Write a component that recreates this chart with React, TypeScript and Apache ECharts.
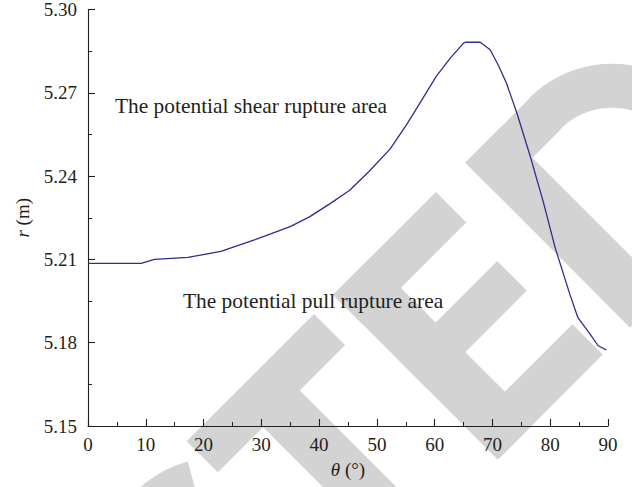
import React, { useEffect, useRef } from 'react';
import * as echarts from 'echarts';

// ---- data ----
const thetaDeg = [0, 9.2, 11.5, 17.3, 23, 28.8, 35, 38.4, 41.9, 45.3, 48.8, 52.3, 55.2, 58, 60.3, 62.7, 65, 65.3, 67.9, 69.6, 71, 72.4, 74.2, 76.5, 78.8, 80.9, 83.4, 84.8, 86.9, 88.3, 89.7];
const radiusM = [5.2086, 5.2086, 5.21, 5.2107, 5.2129, 5.217, 5.2218, 5.2254, 5.2301, 5.2349, 5.242, 5.2498, 5.2587, 5.2682, 5.276, 5.2825, 5.2879, 5.2882, 5.2882, 5.2855, 5.28, 5.2736, 5.2629, 5.2474, 5.2307, 5.2139, 5.1974, 5.189, 5.1831, 5.1789, 5.1774];

const xMin = 0;
const xMax = 90;
const xStep = 10;
const yMin = 5.15;
const yMax = 5.3;
const yStep = 0.03;

const xAxisName = '{i|θ} (°)';
const yAxisName = '{i|r} (m)';
const annotationTexts = ['The potential shear rupture area', 'The potential pull rupture area'];
const watermarkWord = 'RETRACTED';

const INK = '#231f20';
const LINE = '#2d2e8f';
const GRAY = '#d3d3d3';
const SERIF = '"Liberation Serif", "Times New Roman", serif';
const LABEL_SIZE = 19;

// watermark geometry (rotated letter frame: u = reading direction up-right, v = letter-up direction up-left)
const S = Math.SQRT2;
const toScreen = (u: number, v: number): [number, number] => [(u - v) / S, (-u - v) / S];
const rectUV = (u0: number, u1: number, v0: number, v1: number) => [
  toScreen(u0, v0), toScreen(u1, v0), toScreen(u1, v1), toScreen(u0, v1),
];
const ringUV = (cu: number, cv: number, ro: number, ri: number, a0: number, a1: number) => {
  const pts: [number, number][] = [];
  const n = 40;
  for (let i = 0; i <= n; i++) {
    const a = ((a0 + ((a1 - a0) * i) / n) * Math.PI) / 180;
    pts.push(toScreen(cu + ro * Math.cos(a), cv + ro * Math.sin(a)));
  }
  for (let i = n; i >= 0; i--) {
    const a = ((a0 + ((a1 - a0) * i) / n) * Math.PI) / 180;
    pts.push(toScreen(cu + ri * Math.cos(a), cv + ri * Math.sin(a)));
  }
  return pts;
};

function watermarkShapes() {
  const top = -444;
  const base = -677;
  const polys: [number, number][][] = [
    // C
    ringUV(-252, -560.5, 117, 73, 60, 300),
    // T
    rectUV(-180, 0, -488, top),
    rectUV(-116, -64, base, -486),
    // E
    rectUV(27, 80, base, top),
    rectUV(27, 172.5, -487, top),
    rectUV(27, 167, -578, -536),
    rectUV(27, 175.5, base, -634),
    // D
    rectUV(214, 265, base, top),
    rectUV(214, 306, -488, top),
    rectUV(214, 306, base, -633),
    ringUV(305, -560.5, 117, 73, -90, 90),
  ];
  return {
    type: 'group',
    id: 'watermark-' + watermarkWord,
    silent: true,
    children: polys.map((p) => ({
      type: 'polygon',
      z: -10,
      silent: true,
      shape: { points: p },
      style: { fill: GRAY },
    })),
  };
}

export default function App() {
  const ref = useRef<HTMLDivElement>(null);
  useEffect(() => {
    if (!ref.current) return;
    const chart = echarts.init(ref.current, undefined, { renderer: 'svg' });
    const axisCommon = {
      axisLine: { show: true, lineStyle: { color: INK, width: 1.1 } },
      axisTick: { show: true, inside: true, length: 7, lineStyle: { color: INK, width: 1.1 } },
      minorTick: { show: true, splitNumber: 2, length: 4, lineStyle: { color: INK, width: 1 } },
      splitLine: { show: false },
      minorSplitLine: { show: false },
    };
    const nameStyle = {
      color: INK,
      fontFamily: SERIF,
      fontSize: LABEL_SIZE,
      rich: { i: { fontStyle: 'italic', fontFamily: SERIF, fontSize: LABEL_SIZE, color: INK } },
    };
    chart.setOption({
      animation: false,
      backgroundColor: '#ffffff',
      grid: { left: 88, right: 24, top: 6, bottom: 61, containLabel: false },
      xAxis: {
        type: 'value',
        min: xMin,
        max: xMax,
        interval: xStep,
        name: xAxisName,
        nameLocation: 'middle',
        nameGap: 34,
        nameTextStyle: nameStyle,
        axisLabel: { color: INK, fontFamily: SERIF, fontSize: LABEL_SIZE, margin: 9 },
        ...axisCommon,
      },
      yAxis: {
        type: 'value',
        min: 0,
        max: +(yMax - yMin).toFixed(4),
        interval: yStep,
        name: yAxisName,
        nameLocation: 'middle',
        nameRotate: 90,
        nameGap: 56,
        nameTextStyle: nameStyle,
        axisLabel: {
          color: INK,
          fontFamily: SERIF,
          fontSize: LABEL_SIZE,
          margin: 11,
          formatter: (v: number) => (yMin + v).toFixed(2),
        },
        ...axisCommon,
      },
      series: [
        {
          type: 'line',
          data: thetaDeg.map((t, i) => [t, radiusM[i] - yMin]),
          showSymbol: false,
          symbol: 'none',
          lineStyle: { color: LINE, width: 1.3 },
          z: 5,
        },
      ],
      graphic: [
        watermarkShapes(),
        {
          type: 'text',
          z: 20,
          silent: true,
          style: {
            text: annotationTexts[0],
            x: 115,
            y: 106,
            font: `21.4px ${SERIF}`,
            fill: INK,
            textAlign: 'left',
            textVerticalAlign: 'middle',
          },
        },
        {
          type: 'text',
          z: 20,
          silent: true,
          style: {
            text: annotationTexts[1],
            x: 183,
            y: 301,
            font: `21.4px ${SERIF}`,
            fill: INK,
            textAlign: 'left',
            textVerticalAlign: 'middle',
          },
        },
      ],
    });
    return () => chart.dispose();
  }, []);
  return <div ref={ref} style={{ position: 'absolute', left: 0, top: 0, width: 632, height: 487 }} />;
}
